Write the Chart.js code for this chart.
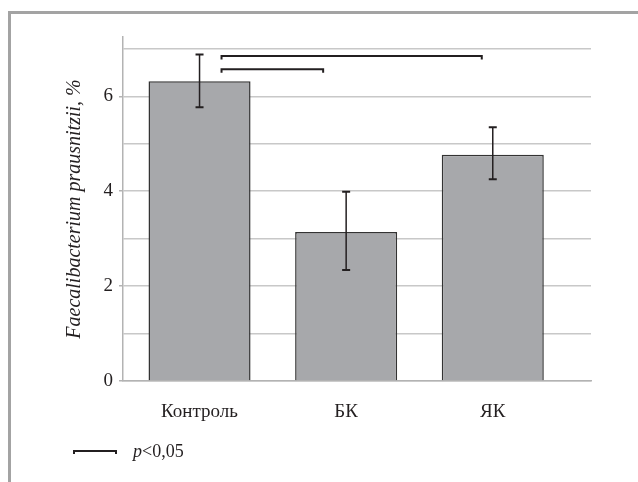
<!DOCTYPE html>
<html>
<head>
<meta charset="utf-8">
<script src="https://cdn.jsdelivr.net/npm/chart.js@4/dist/chart.umd.min.js"></script>
<style>
  html, body { margin: 0; padding: 0; background: #fff; }
  #wrap { position: relative; width: 638px; height: 482px; overflow: hidden; }
  #frame { position: absolute; left: 8px; top: 11px; width: 700px; height: 600px;
           border-top: 3px solid #a3a3a3; border-left: 3px solid #a3a3a3; }
  #chart { position: absolute; left: 0; top: 0; }
  .sym { position: absolute; left: 73px; top: 450px; width: 40px; height: 2px;
         border: 2px solid #231f20; border-top-width: 2.5px; border-bottom: none; }
  .note { position: absolute; left: 133px; top: 441px; font: 18px "Liberation Serif", serif;
          line-height: 20px; color: #231f20; white-space: nowrap; }
</style>
</head>
<body>
<div id="wrap">
  <div id="frame"></div>
  <canvas id="chart" width="638" height="482"></canvas>
  <div class="sym"></div>
  <div class="note"><i>p</i>&lt;0,05</div>
</div>
<script>
// Groups and Faecalibacterium prausnitzii share (%)
const categories = ['Контроль', 'БК', 'ЯК'];
const means      = [6.32, 3.14, 4.77];
const errLow     = [5.77, 2.34, 4.25];
const errHigh    = [6.88, 3.99, 5.35];
// y values that carry a tick label
const yLabelled  = [0, 2, 4, 6];
// significant pairwise comparisons (group indices)
const comparisons = [[0, 2], [0, 1]];

const INK = '#231f20';
const FONT = 'Liberation Serif';

// error bars and significance brackets drawn over the bars
const overlay = {
  id: 'overlay',
  afterDatasetsDraw(chart) {
    const { ctx, scales: { x, y } } = chart;
    ctx.save();
    ctx.strokeStyle = INK;
    means.forEach((m, i) => {
      const px = x.getPixelForValue(i);
      const yt = y.getPixelForValue(errHigh[i]);
      const yb = y.getPixelForValue(errLow[i]);
      ctx.lineWidth = 1.5;
      ctx.beginPath();
      ctx.moveTo(px, yt); ctx.lineTo(px, yb);
      ctx.stroke();
      ctx.lineWidth = 2;
      ctx.beginPath();
      ctx.moveTo(px - 4, yt); ctx.lineTo(px + 4, yt);
      ctx.moveTo(px - 4, yb); ctx.lineTo(px + 4, yb);
      ctx.stroke();
    });
    // bracket levels (value units) and end insets (px)
    const levels = [6.85, 6.57];
    const endInset = [11, 23];
    ctx.lineWidth = 2;
    comparisons.forEach(([a, b], k) => {
      const x1 = x.getPixelForValue(a) + 22;
      const x2 = x.getPixelForValue(b) - endInset[k];
      const yy = y.getPixelForValue(levels[k]);
      ctx.beginPath();
      ctx.moveTo(x1, yy + 3.5); ctx.lineTo(x1, yy);
      ctx.lineTo(x2, yy); ctx.lineTo(x2, yy + 3.5);
      ctx.stroke();
    });
    ctx.restore();
  }
};

new Chart(document.getElementById('chart'), {
  type: 'bar',
  data: {
    datasets: [{
      data: categories.map((c, i) => ({ x: i, y: means[i] })),
      backgroundColor: '#a7a8ab',
      borderColor: '#333333',
      borderWidth: 1.5,
      barPercentage: 0.696,
      categoryPercentage: 1
    }]
  },
  options: {
    responsive: false,
    animation: false,
    devicePixelRatio: 1,
    layout: { padding: { left: 58, top: 37, right: 47, bottom: 41 } },
    plugins: { legend: { display: false }, tooltip: { enabled: false } },
    scales: {
      x: {
        type: 'linear',
        min: -0.522,
        max: 2.67,
        offset: false,
        grid: { display: false },
        border: { color: '#b3b3b3', width: 1.5 },
        ticks: {
          stepSize: 1, includeBounds: false, autoSkip: false, maxRotation: 0,
          padding: 12, color: INK, font: { family: FONT, size: 19 },
          callback: v => categories[v] ?? ''
        },
        afterFit: s => { s.height = 60; }
      },
      y: {
        min: 0,
        max: 7.25,
        grid: {
          color: '#c8c8c8', lineWidth: 1.5, tickLength: 4,
          tickColor: c => (c.tick && yLabelled.includes(c.tick.value)) ? '#b3b3b3' : 'rgba(0,0,0,0)'
        },
        border: { color: '#b3b3b3', width: 1.5 },
        ticks: {
          stepSize: 1, includeBounds: false, autoSkip: false, padding: 6,
          color: INK, font: { family: FONT, size: 19 },
          callback: v => yLabelled.includes(v) ? String(v) : ''
        },
        title: {
          display: true,
          text: 'Faecalibacterium prausnitzii, %',
          color: INK,
          font: { family: FONT, size: 20, style: 'italic' },
          padding: { top: 5, bottom: 0 }
        },
        afterFit: s => { s.width = 65; }
      }
    }
  },
  plugins: [overlay]
});
</script>
</body>
</html>
